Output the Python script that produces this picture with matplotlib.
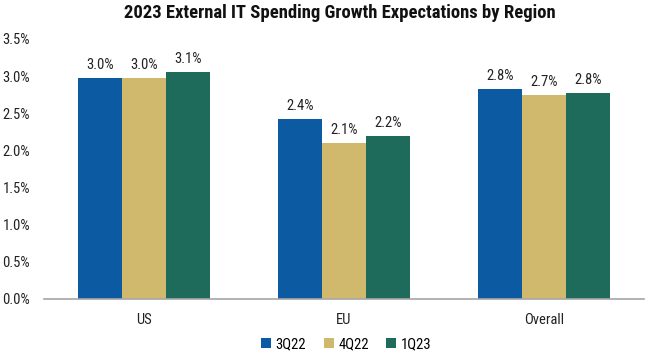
import matplotlib
matplotlib.use("Agg")
import matplotlib.pyplot as plt
from matplotlib import font_manager
import numpy as np

categories = ["US", "EU", "Overall"]
series_names = ["3Q22", "4Q22", "1Q23"]
q3_22 = [2.98, 2.42, 2.83]
q4_22 = [2.97, 2.10, 2.75]
q1_23 = [3.06, 2.19, 2.77]
labels_q3_22 = ["3.0%", "2.4%", "2.8%"]
labels_q4_22 = ["3.0%", "2.1%", "2.7%"]
labels_q1_23 = ["3.1%", "2.2%", "2.8%"]
colors = ["#0B5AA2", "#D0B86C", "#1E6B5B"]

names = {f.name for f in font_manager.fontManager.ttflist}
fam = "Roboto Condensed" if "Roboto Condensed" in names else "Roboto"
condensed = fam == "Roboto Condensed"
plt.rcParams['font.family'] = [fam, 'DejaVu Sans']

fs = 10 if condensed else 9.2
fig = plt.figure(figsize=(6.47, 3.52), dpi=100)
ax = fig.add_axes([44/647, 53/352, 600/647, 260/352])

x = np.arange(len(categories))
w = 0.22
all_vals = [q3_22, q4_22, q1_23]
all_labels = [labels_q3_22, labels_q4_22, labels_q1_23]
for i, (vals, labs, c, n) in enumerate(zip(all_vals, all_labels, colors, series_names)):
    bars = ax.bar(x + (i - 1) * w, vals, width=w, color=c, label=n)
    for b, lab in zip(bars, labs):
        ax.text(b.get_x() + b.get_width() / 2, b.get_height() + 0.08, lab,
                ha="center", va="bottom", fontsize=fs + 0.5, color="#222222")

ax.set_xlim(-0.5, 2.5)
ax.set_ylim(0, 3.5)
ax.set_yticks(np.arange(0, 3.51, 0.5))
ax.set_yticklabels([f"{v:.1f}%" for v in np.arange(0, 3.51, 0.5)])
ax.set_xticks(x)
ax.set_xticklabels(categories)
ax.tick_params(axis="both", length=0, labelsize=fs + 0.5, colors="#222222")
ax.tick_params(axis="y", pad=10)
ax.tick_params(axis="x", pad=10)
for s in ["top", "right", "left"]:
    ax.spines[s].set_visible(False)
ax.spines["bottom"].set_color("#A6A6A6")
ax.spines["bottom"].set_linewidth(1.2)

fig.suptitle("2023 External IT Spending Growth Expectations by Region",
             x=0.525, y=0.99, fontsize=13.4 if condensed else 11.8,
             fontweight="bold", color="#111111")

leg = fig.legend(loc="lower center", bbox_to_anchor=(0.535, -0.035), ncol=3,
                 frameon=False, fontsize=fs + 0.5, handlelength=0.7, handleheight=0.7,
                 handletextpad=0.3, columnspacing=1.2)

fig.savefig("out.png", dpi=100)
